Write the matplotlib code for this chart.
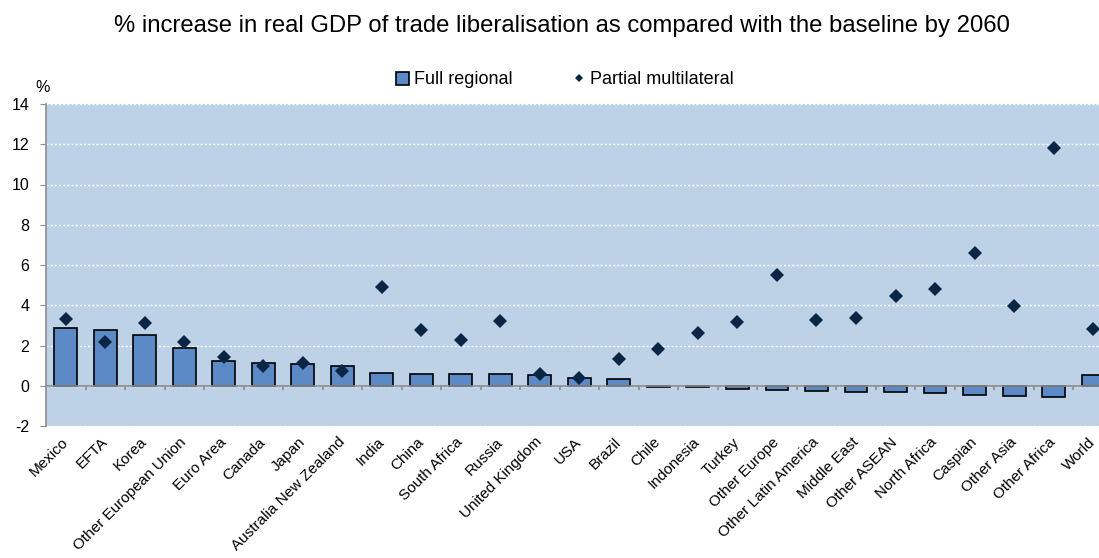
import matplotlib.pyplot as plt
import numpy as np

plt.rcParams['font.family'] = ['Liberation Sans', 'DejaVu Sans']
plt.rcParams['axes.unicode_minus'] = False

categories = ["Mexico", "EFTA", "Korea", "Other European Union", "Euro Area", "Canada",
              "Japan", "Australia New Zealand", "India", "China", "South Africa", "Russia",
              "United Kingdom", "USA", "Brazil", "Chile", "Indonesia", "Turkey",
              "Other Europe", "Other Latin America", "Middle East", "Other ASEAN",
              "North Africa", "Caspian", "Other Asia", "Other Africa", "World"]
full_regional = [2.87, 2.78, 2.53, 1.90, 1.22, 1.12, 1.06, 0.99, 0.63, 0.60, 0.59, 0.57,
                 0.52, 0.40, 0.35, -0.04, -0.05, -0.18, -0.21, -0.25, -0.31, -0.33,
                 -0.36, -0.48, -0.50, -0.55, 0.53]
partial_multilateral = [3.31, 2.15, 3.11, 2.17, 1.44, 0.98, 1.11, 0.74, 4.90, 2.78, 2.28,
                        3.24, 0.58, 0.38, 1.32, 1.82, 2.63, 3.19, 5.49, 3.29, 3.39, 4.48,
                        4.82, 6.60, 3.97, 11.82, 2.83]
y_ticks = [-2, 0, 2, 4, 6, 8, 10, 12, 14]

fig = plt.figure(figsize=(10.99, 5.58), dpi=100)
ax = fig.add_axes([46 / 1099, 1 - 426 / 558, 1 - 46 / 1099, (426 - 104) / 558])
ax.set_facecolor('#bdd1e7')

x = np.arange(len(categories))
bars = ax.bar(x, full_regional, width=0.58, color='#5b8ac6', edgecolor='black', linewidth=1.2,
              label='Full regional', zorder=3)
dots, = ax.plot(x, partial_multilateral, 'D', color='#0b2545', markersize=7, markeredgewidth=0,
                label='Partial multilateral', zorder=4)

# zero line with category separators
ax.axhline(0, color='#8c8c8c', lw=1.2, zorder=3.5)
ax.vlines(x[:-1] + 0.5, -0.2, 0, color='#8c8c8c', lw=1.2, zorder=3.5)

ax.set_ylim(-2, 14)
ax.set_xlim(-0.5, 26.15)
ax.set_yticks(y_ticks)
ax.yaxis.grid(True, color='white', linestyle=(0, (1.5, 1.5)), lw=1)
ax.set_axisbelow(True)
ax.set_xticks(x)
ax.set_xticklabels(categories, rotation=45, ha='right', va='center', rotation_mode='anchor',
                   fontsize=11)
ax.tick_params(axis='x', length=0, pad=10)
ax.tick_params(axis='y', length=4, color='#8c8c8c', labelsize=11.5, pad=8)
for s in ['top', 'right', 'bottom']:
    ax.spines[s].set_visible(False)
ax.spines['left'].set_color('#8c8c8c')
ax.spines['left'].set_linewidth(1.2)

fig.text(562 / 1099, 1 - 26 / 558, '% increase in real GDP of trade liberalisation as compared with the baseline by 2060',
         ha='center', va='center', fontsize=17.2)
fig.text(35 / 1099, 1 - 87 / 558, '%', ha='left', va='center', fontsize=11.5)
fig.legend(handles=[bars, dots], loc='center', bbox_to_anchor=(565 / 1099, 1 - 80 / 558), ncol=2,
           frameon=False, fontsize=13, handlelength=0.7, handleheight=0.7, columnspacing=3.3,
           handletextpad=0.3, markerscale=0.6)

fig.savefig('out.png', dpi=100)
